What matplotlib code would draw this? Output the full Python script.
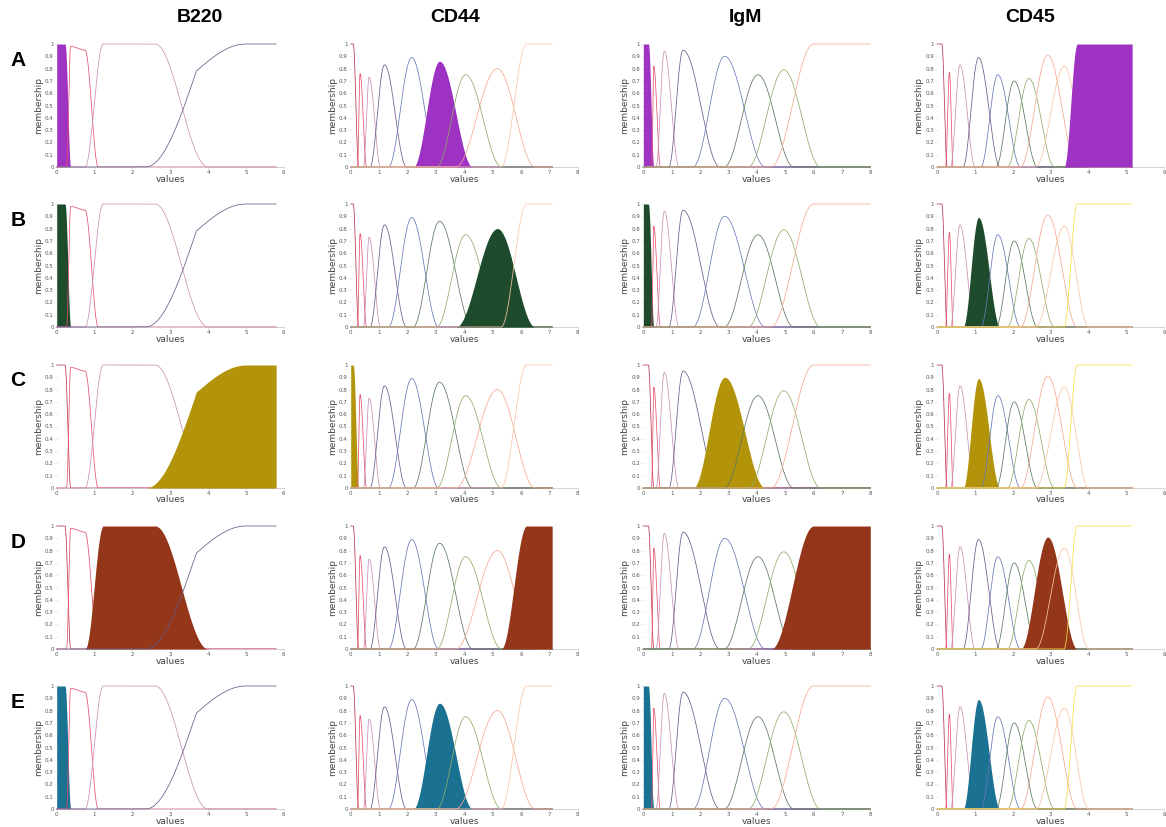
import numpy as np
import matplotlib.pyplot as plt

# markers (columns) and samples (rows)
markers = ["B220", "CD44", "IgM", "CD45"]
x_max = [6, 8, 8, 6]
x_end = [5.8, 7.1, 8.0, 5.15]
rows = ["A", "B", "C", "D", "E"]

# membership functions: knot x, knot y
b220_mf = [
    ([0, 0.22, 0.37], [1, 1, 0]),
    ([0.26, 0.37, 0.75, 1.1], [0, 0.98, 0.95, 0]),
    ([0.75, 1.23, 2.6, 4.0], [0, 1, 1, 0]),
    ([2.35, 3.69, 5.0, 5.8], [0, 0.78, 1, 1]),
]
b220_ease = [None, None, None, ["in", "out", "s"]]

cd44_mf = [
    ([0, 0.09, 0.28], [1, 1, 0]),
    ([0.24, 0.33, 0.56], [0, 0.76, 0]),
    ([0.45, 0.65, 1.05], [0, 0.73, 0]),
    ([0.68, 1.19, 1.97], [0, 0.83, 0]),
    ([1.33, 2.15, 3.1], [0, 0.89, 0]),
    ([2.2, 3.13, 4.3], [0, 0.86, 0]),
    ([3.03, 4.05, 5.32], [0, 0.75, 0]),
    ([3.7, 5.17, 6.5], [0, 0.8, 0]),
    ([5.3, 6.2, 7.1], [0, 1, 1]),
]

igm_mf = [
    ([0, 0.18, 0.37], [1, 1, 0]),
    ([0.29, 0.37, 0.6], [0, 0.82, 0]),
    ([0.45, 0.74, 1.26], [0, 0.94, 0]),
    ([0.9, 1.4, 2.7], [0, 0.95, 0]),
    ([1.75, 2.87, 4.3], [0, 0.9, 0]),
    ([2.85, 4.04, 5.3], [0, 0.75, 0]),
    ([3.7, 4.95, 6.25], [0, 0.79, 0]),
    ([4.5, 6.0, 8.0], [0, 1, 1]),
]

cd45_mf = [
    ([0, 0.12, 0.26], [1, 1, 0]),
    ([0.22, 0.32, 0.42], [0, 0.77, 0]),
    ([0.35, 0.6, 1.0], [0, 0.83, 0]),
    ([0.68, 1.09, 1.66], [0, 0.89, 0]),
    ([1.15, 1.6, 2.2], [0, 0.75, 0]),
    ([1.55, 2.03, 2.65], [0, 0.7, 0]),
    ([1.85, 2.42, 3.1], [0, 0.72, 0]),
    ([2.2, 2.92, 3.7], [0, 0.91, 0]),
    ([2.6, 3.36, 4.0], [0, 0.82, 0]),
    ([3.35, 3.7, 5.15], [0, 1, 1]),
]

all_mf = [b220_mf, cd44_mf, igm_mf, cd45_mf]
all_ease = [b220_ease, None, None, None]

line_colors = ["#b8324e", "#e8506e", "#c890b8", "#6a5a88", "#6878b8",
               "#5a7858", "#90ac68", "#f4a890", "#f8c4a4", "#f2e040"]

# which function is highlighted in each row, per marker
fill_idx = [
    [0, 5, 0, 9],
    [0, 7, 0, 3],
    [3, 0, 4, 3],
    [2, 8, 7, 7],
    [0, 5, 0, 3],
]
fill_colors = ["#9e32c2", "#1d4b2c", "#b29309", "#93361a", "#1a7191"]


def mf_curve(x, kx, ky, ease=None):
    y = np.where(x < kx[0], ky[0], ky[-1]).astype(float)
    for i in range(len(kx) - 1):
        m = (x >= kx[i]) & (x <= kx[i + 1])
        t = (x[m] - kx[i]) / (kx[i + 1] - kx[i])
        e = ease[i] if ease else "s"
        if e == "in":
            f = 1 - np.cos(np.pi * t / 2)
        elif e == "out":
            f = np.sin(np.pi * t / 2)
        else:
            f = (1 - np.cos(np.pi * t)) / 2
        y[m] = ky[i] + (ky[i + 1] - ky[i]) * f
    return y


W, H = 1166, 827
fig = plt.figure(figsize=(W / 100, H / 100), dpi=100)

col_left = [56.7, 350.7, 643.3, 937.3]
title_x = [200, 455, 745, 1030]
row_top = [44, 204, 365, 526, 686]
ax_w, ax_h = 227, 123

for r, row in enumerate(rows):
    for c, name in enumerate(markers):
        ax = fig.add_axes([col_left[c] / W, 1 - (row_top[r] + ax_h) / H, ax_w / W, ax_h / H])
        x = np.linspace(0, x_end[c], 1200)
        mfs = all_mf[c]
        eases = all_ease[c]
        for i, (kx, ky) in enumerate(mfs):
            e = eases[i] if eases else None
            y = mf_curve(x, kx, ky, e)
            if i == fill_idx[r][c]:
                ax.fill_between(x, 0, y, color=fill_colors[r], lw=0, zorder=i + 1)
            else:
                ax.plot(x, y, color=line_colors[i], lw=0.55, zorder=i + 1, clip_on=False)

        ax.set_xlim(0, x_max[c])
        ax.set_ylim(0, 1)
        ax.set_xticks(range(x_max[c] + 1))
        ax.set_yticks(np.arange(0, 1.01, 0.1))
        ax.set_yticklabels(["0"] + [f"{v:.1f}" for v in np.arange(0.1, 0.95, 0.1)] + ["1"])
        ax.tick_params(labelsize=4, labelcolor="#555555", color="#cccccc",
                       length=1.2, width=0.4, pad=1.0)
        for s in ["top", "right", "left"]:
            ax.spines[s].set_visible(False)
        ax.spines["bottom"].set_color("#cccccc")
        ax.spines["bottom"].set_linewidth(0.6)
        ax.set_xlabel("values", fontsize=6.5, color="#444444")
        ax.xaxis.set_label_coords(0.5, -7.5 / ax_h)
        ax.set_ylabel("membership", fontsize=6.5, color="#444444", labelpad=1.5)

        if r == 0:
            fig.text(title_x[c] / W, 1 - 18 / H, name,
                     fontsize=14, fontweight="bold", ha="center", va="center",
                     family=["Liberation Sans Narrow", "Liberation Sans"])

    fig.text(18 / W, 1 - (row_top[r] + 16) / H, row, fontsize=15, fontweight="bold",
             ha="center", va="center", family="Liberation Sans")

fig.savefig("out.png", dpi=100)
